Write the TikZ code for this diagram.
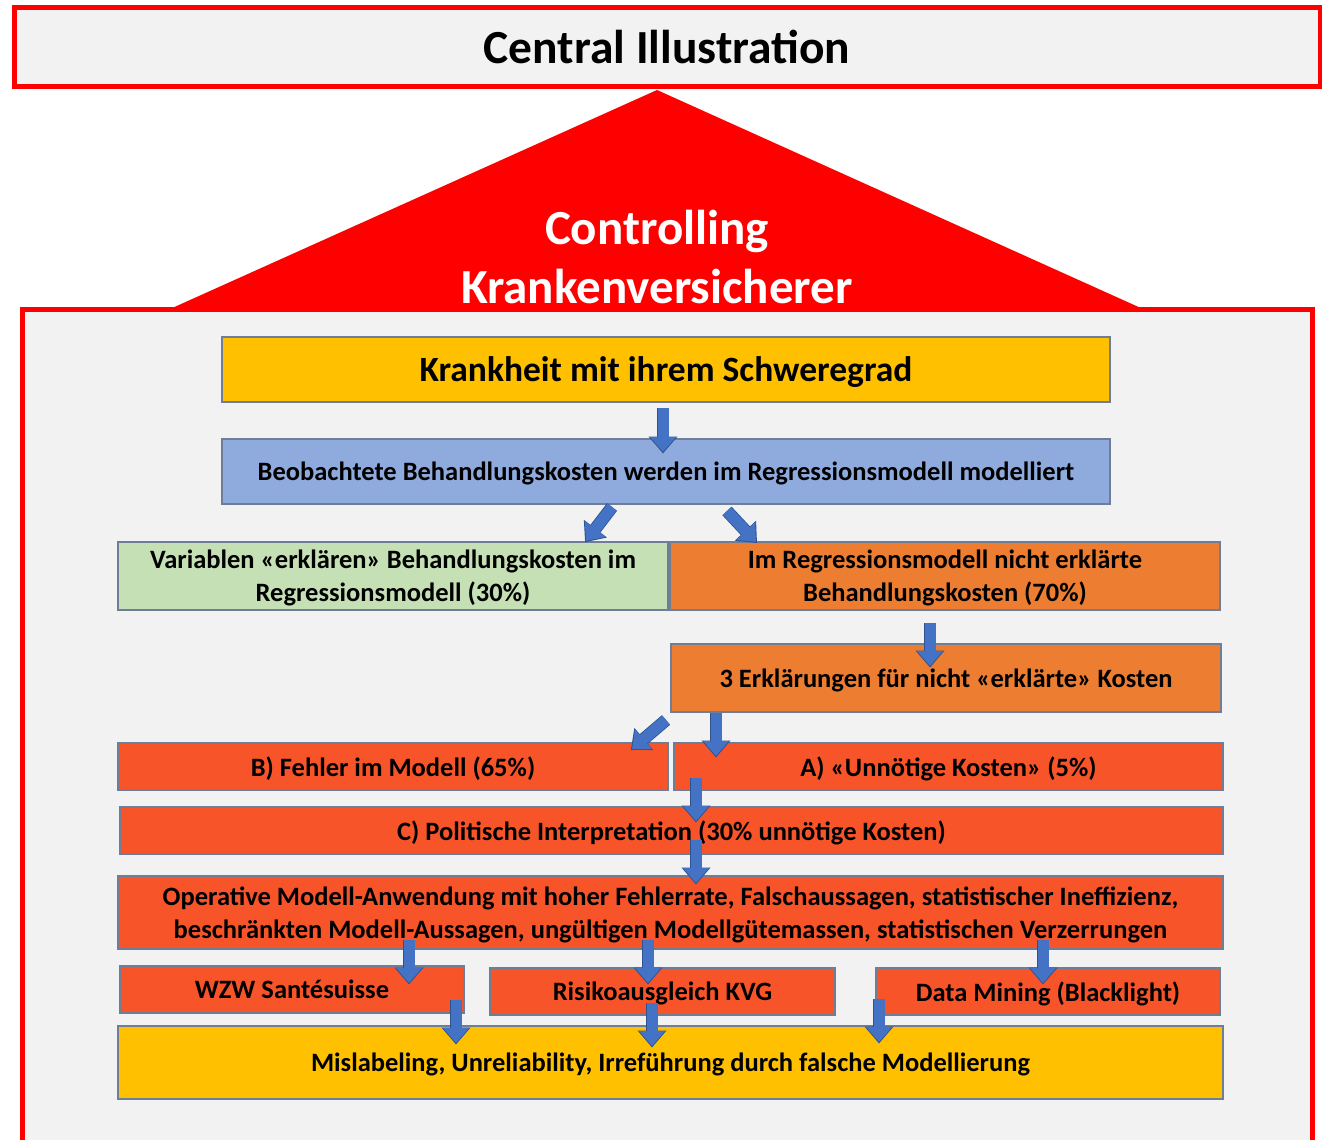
\documentclass[tikz,border=0pt]{standalone}
\usepackage{fontspec}
\setmainfont{Carlito}
\usepackage{xcolor}
\usetikzlibrary{arrows.meta,positioning}

\definecolor{panelgray}{HTML}{F2F2F2}
\definecolor{alarmred}{HTML}{FF0000}
\definecolor{boxgold}{HTML}{FFC000}
\definecolor{boxblue}{HTML}{8FAADC}
\definecolor{boxgreen}{HTML}{C5E0B4}
\definecolor{boxorange}{HTML}{ED7D31}
\definecolor{boxtomato}{HTML}{F8542A}
\definecolor{boxline}{HTML}{6F7D96}
\definecolor{arrowblue}{HTML}{4472C4}
\definecolor{arrowline}{HTML}{2F528F}

\tikzset{
  box/.style={draw=boxline, line width=1.2pt, inner sep=0pt, align=center, text depth=0pt,
    font=\bfseries\fontsize{26.5}{33}\selectfont},
  flow/.style={draw=arrowblue, line width=11pt, -{Triangle[width=25pt,length=15pt]},
    preaction={draw=arrowline, line width=12.6pt, shorten >=-1.5pt,
      -{Triangle[width=28pt,length=17pt]}}}
}

\begin{document}
\begin{tikzpicture}[x=1pt,y=-1pt]
\useasboundingbox (0,0) rectangle (1322,1140);

% title bar
\node[draw=alarmred, line width=5pt, fill=panelgray, minimum width=1306pt, minimum height=78pt,
  inner sep=0pt, font=\bfseries\fontsize{47.5}{54}\selectfont] (title) at (667,47) {Central Illustration};

% roof and frame
\fill[alarmred] (657,90) -- (1143,309) -- (170,309) -- cycle;
\draw[draw=alarmred, line width=5pt, fill=panelgray] (22,1160) -- (22,309) -- (1312,309) -- (1312,1160);
\node[text=white, align=center, font=\bfseries\fontsize{49}{59}\selectfont] (roof) at (657,257)
  {Controlling\\Krankenversicherer};

% boxes
\node[box, fill=boxgold, minimum width=888pt, minimum height=65pt,
  font=\bfseries\fontsize{35.5}{40}\selectfont] (krank) at (666,369.5) {Krankheit mit ihrem Schweregrad};
\node[box, fill=boxblue, minimum width=888pt, minimum height=65pt] (beob) at (666,471.5)
  {Beobachtete Behandlungskosten werden im Regressionsmodell modelliert};
\node[box, fill=boxgreen, minimum width=550pt, minimum height=68pt] (var) at (393,576)
  {Variablen «erklären» Behandlungskosten im\\Regressionsmodell (30\%)};
\node[box, fill=boxorange, minimum width=550pt, minimum height=68pt] (nerkl) at (945,576)
  {Im Regressionsmodell nicht erklärte\\Behandlungskosten (70\%)};
\node[box, fill=boxorange, minimum width=550pt, minimum height=68pt] (drei) at (946,678)
  {3 Erklärungen für nicht «erklärte» Kosten};
\node[box, fill=boxtomato, minimum width=550pt, minimum height=47pt] (fehler) at (393,766.5)
  {B) Fehler im Modell (65\%)};
\node[box, fill=boxtomato, minimum width=549pt, minimum height=47pt] (unnoet) at (948.5,766.5)
  {A) «Unnötige Kosten» (5\%)};
\node[box, fill=boxtomato, minimum width=1103pt, minimum height=47pt] (polit) at (671.5,830.5)
  {C) Politische Interpretation (30\% unnötige Kosten)};
\node[box, fill=boxtomato, minimum width=1105pt, minimum height=73pt] (operat) at (670.5,912.5)
  {Operative Modell-Anwendung mit hoher Fehlerrate, Falschaussagen, statistischer Ineffizienz,\\
   beschränkten Modell-Aussagen, ungültigen Modellgütemassen, statistischen Verzerrungen};
\node[box, fill=boxtomato, minimum width=344pt, minimum height=47pt] (wzw) at (292,989.5)
  {WZW Santésuisse};
\node[box, fill=boxtomato, minimum width=345pt, minimum height=47pt] (risiko) at (662.5,991.5)
  {Risikoausgleich KVG};
\node[box, fill=boxtomato, minimum width=344pt, minimum height=47pt] (datam) at (1048,991.5)
  {Data Mining (Blacklight)};
\node[box, fill=boxgold, minimum width=1105pt, minimum height=73pt] (misl) at (670.5,1062.5)
  {Mislabeling, Unreliability, Irreführung durch falsche Modellierung};

% arrow ends
\coordinate (k1) at (663,408);   \coordinate (b1) at (663,452);
\coordinate (b2) at (612,507);   \coordinate (v1) at (586,541);
\coordinate (b3) at (727,511);   \coordinate (n1) at (756,542);
\coordinate (n2) at (930,623);   \coordinate (d1) at (930,666);
\coordinate (d2) at (666,720);   \coordinate (f1) at (632,749);
\coordinate (d3) at (716,713);   \coordinate (u1) at (716,756);
\coordinate (u2) at (696,778);   \coordinate (p1) at (696,821);
\coordinate (p2) at (696,840);   \coordinate (o1) at (696,883);
\coordinate (o2) at (409,940);   \coordinate (w1) at (409,983);
\coordinate (o3) at (648,940);   \coordinate (r1) at (648,983);
\coordinate (o4) at (1043,940);  \coordinate (m1) at (1043,983);
\coordinate (w2) at (456,1000);  \coordinate (l1) at (456,1043);
\coordinate (r2) at (652,1003);  \coordinate (l2) at (652,1046);
\coordinate (m2) at (879,999);   \coordinate (l3) at (879,1042);

\draw[flow] (k1) -- (b1);
\draw[flow] (b2) -- (v1);
\draw[flow] (b3) -- (n1);
\draw[flow] (n2) -- (d1);
\draw[flow] (d2) -- (f1);
\draw[flow] (d3) -- (u1);
\draw[flow] (u2) -- (p1);
\draw[flow] (p2) -- (o1);
\draw[flow] (o2) -- (w1);
\draw[flow] (o3) -- (r1);
\draw[flow] (o4) -- (m1);
\draw[flow] (w2) -- (l1);
\draw[flow] (r2) -- (l2);
\draw[flow] (m2) -- (l3);
\end{tikzpicture}
\end{document}
